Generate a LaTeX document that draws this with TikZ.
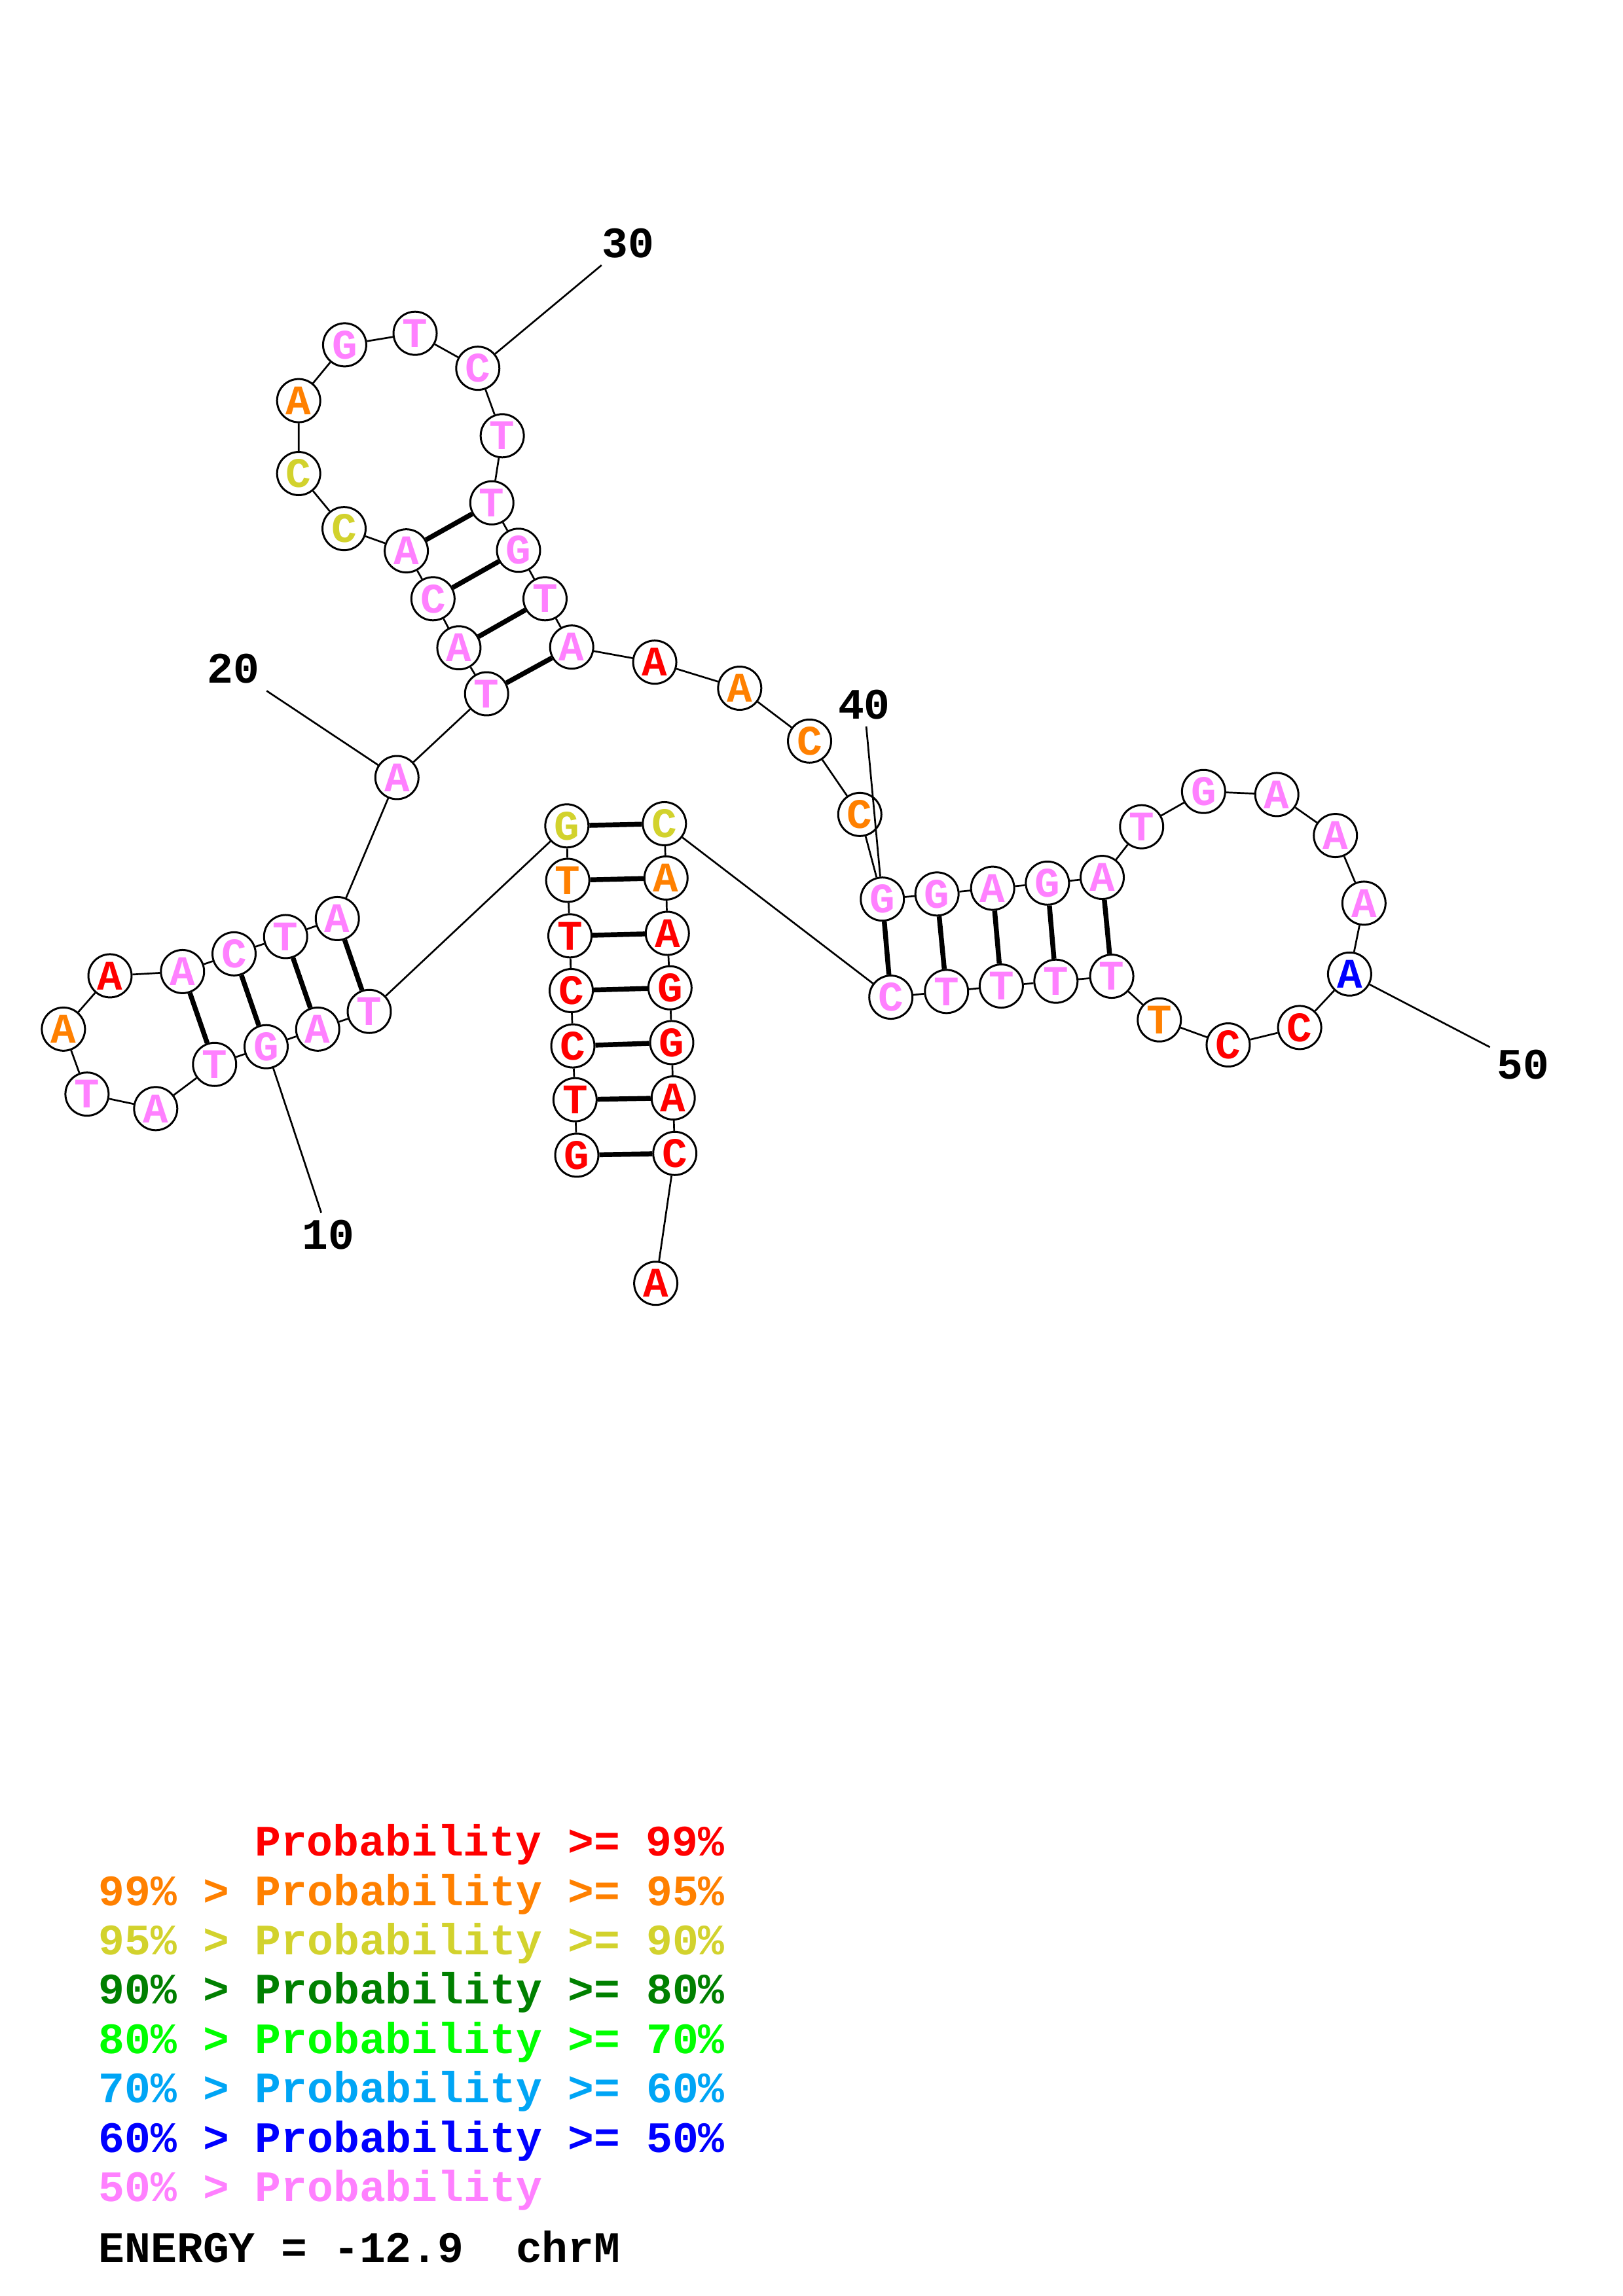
\documentclass[tikz,border=0pt]{standalone}
\usepackage{fontspec}
\usepackage{tikz}
\usetikzlibrary{backgrounds}
\newfontfamily\courfont{Liberation Mono}
\newcommand{\ntfont}{\courfont\bfseries\fontsize{15.5}{18}\selectfont}
\newcommand{\legfont}{\courfont\bfseries\fontsize{16}{19}\selectfont}
\definecolor{ProbRed}    {RGB}{255, 0,   0}
\definecolor{ProbOrange} {RGB}{255, 128, 0}
\definecolor{ProbOlive}  {RGB}{210, 210, 45}
\definecolor{ProbDkGreen}{RGB}{0,   128, 0}
\definecolor{ProbGreen}  {RGB}{0,   255, 0}
\definecolor{ProbSky}    {RGB}{0,   165, 245}
\definecolor{ProbBlue}   {RGB}{0,   0,   255}
\definecolor{ProbPink}   {RGB}{255, 128, 255}

\begin{document}
\begin{tikzpicture}[
  x=0.018953cm, y=-0.018953cm,
  nt/.style = {
    circle, draw, fill=white, line width=0.72pt,
    inner sep=0pt, minimum size=15.9pt, font=\ntfont
  },
  backbone/.style = {line width=0.65pt},
  pairline/.style = {line width=1.8pt},
  numlabel/.style = {font=\legfont, inner sep=2.5pt},
  legline/.style = {font=\legfont, anchor=base west, inner sep=0pt}
]

\useasboundingbox (0,0) rectangle (1108,1568);

% Stem 1-7 / 59-65
\node[nt, text=ProbRed]    (n1)  at (393.8,788.9) {G};
\node[nt, text=ProbRed]    (n2)  at (392.6,751.0) {T};
\node[nt, text=ProbRed]    (n3)  at (391.1,714.3) {C};
\node[nt, text=ProbRed]    (n4)  at (390.0,676.5) {C};
\node[nt, text=ProbRed]    (n5)  at (389.1,639.1) {T};
\node[nt, text=ProbOrange] (n6)  at (387.6,601.2) {T};
\node[nt, text=ProbOlive]  (n7)  at (387.0,564.0) {G};

% Left hairpin
\node[nt, text=ProbPink]   (n8)  at (252.1,690.7) {T};
\node[nt, text=ProbPink]   (n9)  at (216.9,702.8) {A};
\node[nt, text=ProbPink]   (n10) at (181.7,714.8) {G};
\node[nt, text=ProbPink]   (n11) at (146.5,726.9) {T};
\node[nt, text=ProbPink]   (n12) at (106.3,757.1) {A};
\node[nt, text=ProbPink]   (n13) at (59.4,747.2)  {T};
\node[nt, text=ProbOrange] (n14) at (43.3,702.8)  {A};
\node[nt, text=ProbRed]    (n15) at (75.1,666.4)  {A};
\node[nt, text=ProbPink]   (n16) at (124.6,663.5) {A};
\node[nt, text=ProbPink]   (n17) at (159.8,651.4) {C};
\node[nt, text=ProbPink]   (n18) at (195.0,639.6) {T};
\node[nt, text=ProbPink]   (n19) at (230.3,627.3) {A};
\node[nt, text=ProbPink]   (n20) at (271.0,531.0) {A};

% Top hairpin
\node[nt, text=ProbPink]   (n21) at (332.2,473.8) {T};
\node[nt, text=ProbPink]   (n22) at (313.3,442.4) {A};
\node[nt, text=ProbPink]   (n23) at (295.6,408.9) {C};
\node[nt, text=ProbPink]   (n24) at (277.4,376.2) {A};
\node[nt, text=ProbOlive]  (n25) at (234.9,361.0) {C};
\node[nt, text=ProbOlive]  (n26) at (203.9,323.4) {C};
\node[nt, text=ProbOrange] (n27) at (203.9,273.6) {A};
\node[nt, text=ProbPink]   (n28) at (235.3,235.5) {G};
\node[nt, text=ProbPink]   (n29) at (283.4,227.6) {T};
\node[nt, text=ProbPink]   (n30) at (326.2,251.5) {C};
\node[nt, text=ProbPink]   (n31) at (342.9,297.6) {T};
\node[nt, text=ProbPink]   (n32) at (335.8,343.4) {T};
\node[nt, text=ProbPink]   (n33) at (354.0,375.8) {G};
\node[nt, text=ProbPink]   (n34) at (372.1,408.9) {T};
\node[nt, text=ProbPink]   (n35) at (390.3,441.9) {A};

% Linker
\node[nt, text=ProbRed]    (n36) at (447.0,452.2) {A};
\node[nt, text=ProbOrange] (n37) at (505.0,470.0) {A};
\node[nt, text=ProbOrange] (n38) at (552.7,506.1) {C};
\node[nt, text=ProbOrange] (n39) at (587.0,556.2) {C};

% Right hairpin
\node[nt, text=ProbPink]   (n40) at (602.4,614.0) {G};
\node[nt, text=ProbPink]   (n41) at (639.7,610.5) {G};
\node[nt, text=ProbPink]   (n42) at (677.7,606.6) {A};
\node[nt, text=ProbPink]   (n43) at (715.1,603.1) {G};
\node[nt, text=ProbPink]   (n44) at (752.5,599.2) {A};
\node[nt, text=ProbPink]   (n45) at (779.4,564.6) {T};
\node[nt, text=ProbPink]   (n46) at (821.7,540.5) {G};
\node[nt, text=ProbPink]   (n47) at (871.7,542.6) {A};
\node[nt, text=ProbPink]   (n48) at (911.7,570.6) {A};
\node[nt, text=ProbPink]   (n49) at (931.2,616.8) {A};
\node[nt, text=ProbBlue]   (n50) at (921.4,665.2) {A};
\node[nt, text=ProbRed]    (n51) at (887.3,701.7) {C};
\node[nt, text=ProbRed]    (n52) at (838.5,713.6) {C};
\node[nt, text=ProbOrange] (n53) at (791.5,696.5) {T};
\node[nt, text=ProbPink]   (n54) at (759.0,666.7) {T};
\node[nt, text=ProbPink]   (n55) at (720.9,670.1) {T};
\node[nt, text=ProbPink]   (n56) at (683.6,673.4) {T};
\node[nt, text=ProbPink]   (n57) at (646.2,677.1) {T};
\node[nt, text=ProbPink]   (n58) at (608.2,681.0) {C};

% Stem, 3' side
\node[nt, text=ProbOlive]  (n59) at (453.6,562.5) {C};
\node[nt, text=ProbOrange] (n60) at (454.7,599.6) {A};
\node[nt, text=ProbRed]    (n61) at (455.6,637.4) {A};
\node[nt, text=ProbRed]    (n62) at (457.4,674.6) {G};
\node[nt, text=ProbRed]    (n63) at (458.6,712.0) {G};
\node[nt, text=ProbRed]    (n64) at (459.6,749.8) {A};
\node[nt, text=ProbRed]    (n65) at (460.7,787.7) {C};
\node[nt, text=ProbRed]    (n66) at (447.7,876.4) {A};

% Backbone and pairs
\begin{scope}[on background layer]
  \fill[white] (0,0) rectangle (1108,1568);
  \draw[backbone] (n1) -- (n2) -- (n3) -- (n4) -- (n5) -- (n6) -- (n7)
    -- (n8) -- (n9) -- (n10) -- (n11) -- (n12) -- (n13) -- (n14) -- (n15)
    -- (n16) -- (n17) -- (n18) -- (n19) -- (n20) -- (n21) -- (n22) -- (n23)
    -- (n24) -- (n25) -- (n26) -- (n27) -- (n28) -- (n29) -- (n30) -- (n31)
    -- (n32) -- (n33) -- (n34) -- (n35) -- (n36) -- (n37) -- (n38) -- (n39)
    -- (n40) -- (n41) -- (n42) -- (n43) -- (n44) -- (n45) -- (n46) -- (n47)
    -- (n48) -- (n49) -- (n50) -- (n51) -- (n52) -- (n53) -- (n54) -- (n55)
    -- (n56) -- (n57) -- (n58) -- (n59) -- (n60) -- (n61) -- (n62) -- (n63)
    -- (n64) -- (n65) -- (n66);
  \draw[pairline] (n1) -- (n65);
  \draw[pairline] (n2) -- (n64);
  \draw[pairline] (n3) -- (n63);
  \draw[pairline] (n4) -- (n62);
  \draw[pairline] (n5) -- (n61);
  \draw[pairline] (n6) -- (n60);
  \draw[pairline] (n7) -- (n59);
  \draw[pairline] (n8) -- (n19);
  \draw[pairline] (n9) -- (n18);
  \draw[pairline] (n10) -- (n17);
  \draw[pairline] (n11) -- (n16);
  \draw[pairline] (n21) -- (n35);
  \draw[pairline] (n22) -- (n34);
  \draw[pairline] (n23) -- (n33);
  \draw[pairline] (n24) -- (n32);
  \draw[pairline] (n40) -- (n58);
  \draw[pairline] (n41) -- (n57);
  \draw[pairline] (n42) -- (n56);
  \draw[pairline] (n43) -- (n55);
  \draw[pairline] (n44) -- (n54);
\end{scope}

% Position numbers
\node[numlabel] (lab10) at (224.3,843.2) {10};
\node[numlabel] (lab20) at (159.4,456.7) {20};
\node[numlabel] (lab30) at (428.8,166.0) {30};
\node[numlabel] (lab40) at (590.0,481.0) {40};
\node[numlabel] (lab50) at (1040.0,727.0) {50};
\draw[backbone] (n10) -- (lab10);
\draw[backbone] (n20) -- (lab20);
\draw[backbone] (n30) -- (lab30);
\draw[backbone] (n40) -- (lab40);
\draw[backbone] (n50) -- (lab50);

% Legend
\node[legline, text=ProbRed]     (leg1) at (173.6,1267.5) {Probability >= 99\%};
\node[legline, text=ProbOrange]  (leg2) at (67,1301.2) {99\% > Probability >= 95\%};
\node[legline, text=ProbOlive]   (leg3) at (67,1334.9) {95\% > Probability >= 90\%};
\node[legline, text=ProbDkGreen] (leg4) at (67,1368.6) {90\% > Probability >= 80\%};
\node[legline, text=ProbGreen]   (leg5) at (67,1402.3) {80\% > Probability >= 70\%};
\node[legline, text=ProbSky]     (leg6) at (67,1436.0) {70\% > Probability >= 60\%};
\node[legline, text=ProbBlue]    (leg7) at (67,1469.7) {60\% > Probability >= 50\%};
\node[legline, text=ProbPink]    (leg8) at (67,1503.4) {50\% > Probability};
\node[legline] (energy) at (67,1545.1) {ENERGY = -12.9\ \ chrM};

\end{tikzpicture}
\end{document}
